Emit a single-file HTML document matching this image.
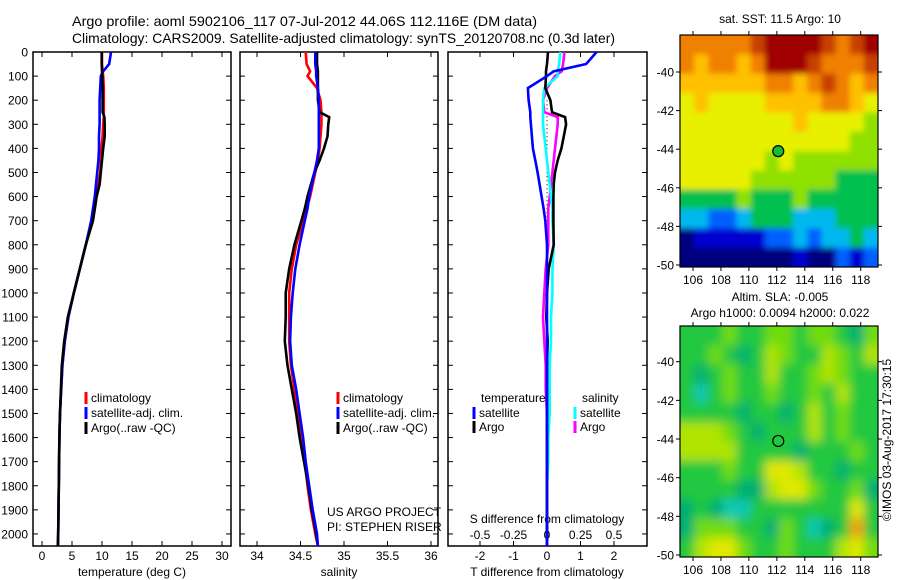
<!DOCTYPE html>
<html><head><meta charset="utf-8"><style>
body{margin:0;background:#fff;}
svg{display:block;font-family:"Liberation Sans",sans-serif;}
</style></head><body>
<svg id="c" width="900" height="580" xmlns="http://www.w3.org/2000/svg">
<defs>
<filter id="blurS" x="-5%" y="-5%" width="110%" height="110%"><feGaussianBlur stdDeviation="3"/></filter>
<filter id="blurL" x="-5%" y="-5%" width="110%" height="110%"><feGaussianBlur stdDeviation="5"/></filter>
<clipPath id="clipS"><rect x="680" y="35" width="198" height="232"/></clipPath>
<clipPath id="clipL"><rect x="680" y="326" width="198" height="231"/></clipPath>
</defs>
<text x="72" y="26" font-size="14" textLength="465" lengthAdjust="spacingAndGlyphs">Argo profile: aoml 5902106_117 07-Jul-2012 44.06S 112.116E (DM data)</text>
<text x="72" y="43" font-size="14" textLength="543" lengthAdjust="spacingAndGlyphs">Climatology: CARS2009. Satellite-adjusted climatology: synTS_20120708.nc (0.3d later)</text>
<text x="780" y="23" font-size="12" text-anchor="middle">sat. SST: 11.5 Argo: 10</text>
<text x="780" y="301" font-size="12" text-anchor="middle">Altim. SLA: -0.005</text>
<text x="780" y="317" font-size="12" text-anchor="middle">Argo h1000: 0.0094 h2000: 0.022</text>
<text transform="translate(891,440) rotate(-90)" font-size="12" text-anchor="middle">©IMOS 03-Aug-2017 17:30:15</text>
<g id="g"></g>
</svg>
<script>
// ---- data ----
const depthTicks=[0,100,200,300,400,500,600,700,800,900,1000,1100,1200,1300,1400,1500,1600,1700,1800,1900,2000];
const tempTicks=[0,5,10,15,20,25,30];
const salTicks=[34,34.5,35,35.5,36];
const tdiffTicks=[-2,-1,0,1,2];
const sdiffTickLabels=["-0.5","-0.25","0","0.25","0.5"];
const sdiffTicks=[-0.5,-0.25,0,0.25,0.5];
const depths=[0,50,80,100,150,200,250,270,300,350,400,450,500,550,600,650,700,800,900,1000,1100,1200,1300,1400,1500,1600,1700,1800,1900,2000,2050];
const tempClim=[10.0,10.0,10.1,10.2,10.3,10.3,10.3,10.3,10.2,10.1,9.9,9.8,9.7,9.4,9.1,8.8,8.4,7.3,6.3,5.3,4.4,3.8,3.4,3.2,3.0,2.9,2.85,2.8,2.75,2.7,2.65];
const tempSat=[11.5,11.2,10.2,9.8,9.7,9.6,9.6,9.6,9.6,9.5,9.5,9.4,9.2,9.0,8.8,8.5,8.2,7.3,6.3,5.3,4.4,3.8,3.4,3.2,3.0,2.9,2.85,2.8,2.75,2.7,2.65];
const tempArgo=[9.95,9.95,10.0,10.05,10.1,10.1,10.1,10.4,10.45,10.45,10.2,10.0,9.8,9.6,9.1,8.8,8.5,7.3,6.3,5.3,4.3,3.7,3.3,3.15,3.0,2.9,2.85,2.8,2.75,2.7,2.65];
const salClim=[34.56,34.57,34.61,34.58,34.69,34.73,34.74,34.74,34.74,34.73,34.72,34.7,34.67,34.64,34.61,34.57,34.53,34.45,34.40,34.37,34.37,34.37,34.39,34.43,34.47,34.51,34.55,34.58,34.62,34.67,34.70];
const salSat=[34.67,34.67,34.68,34.68,34.70,34.71,34.71,34.71,34.71,34.71,34.71,34.69,34.66,34.63,34.60,34.58,34.55,34.49,34.44,34.41,34.39,34.38,34.40,34.45,34.49,34.53,34.56,34.60,34.64,34.69,34.70];
const salArgo=[34.69,34.69,34.70,34.70,34.70,34.70,34.72,34.83,34.82,34.81,34.77,34.72,34.66,34.62,34.58,34.55,34.51,34.43,34.37,34.33,34.33,34.32,34.35,34.40,34.45,34.49,34.54,34.59,34.63,34.68,34.70];
const tdiffSat=[1.48,1.17,0.2,0,-0.57,-0.55,-0.5,-0.5,-0.48,-0.45,-0.42,-0.35,-0.28,-0.22,-0.16,-0.1,-0.05,0,0,0,0,0,0,0,0,0,0,0,0,0,0];
const tdiffArgo=[0.03,0.0,-0.03,-0.03,-0.05,0.1,0.15,0.54,0.57,0.5,0.43,0.32,0.24,0.2,0.19,0.19,0.19,0.2,0.05,0.0,-0.02,0.02,0.0,0.0,0.0,0.0,0.0,0.0,0.0,0.0,0.0];
const sdiffSat=[0.1,0.09,0.08,0.08,-0.02,-0.03,-0.03,-0.03,-0.03,-0.02,-0.01,0.0,0.01,0.02,0.03,0.04,0.04,0.05,0.04,0.04,0.03,0.03,0.02,0.02,0.02,0.01,0.01,0.0,0.0,0.0,0.0];
const sdiffArgo=[0.13,0.12,0.11,0.06,0.0,-0.03,-0.02,0.08,0.08,0.07,0.06,0.05,0.04,0.03,0.02,0.01,0.01,0.01,-0.01,-0.02,-0.03,-0.02,-0.01,-0.01,0.0,0.0,0.0,0.0,0.0,0.0,0.0];
const lonTicks=[106,108,110,112,114,116,118];
const latTicks=[-40,-42,-44,-46,-48,-50];
const sstGrid=[
[8,8,8,8,8,9,10,10,10,10,9,8,9,10],
[8,7,8,8,7,8,10,10,10,9,8,8,8,9],
[7,7,7,7,7,7,8,8,7,8,9,8,7,8],
[6,7,6,6,6,6,7,7,7,7,8,8,7,6],
[6,6,6,6,6,6,6,6,7,6,6,6,6,5],
[6,6,6,6,6,6,6,6,6,6,6,6,5,5],
[6,6,6,6,6,6,5,6,5,5,5,5,5,5],
[6,6,6,6,6,5,5,5,5,5,5,4,4,4],
[4,4,4,4,5,4,4,4,5,4,4,4,4,4],
[3,3,2,2,3,4,4,4,3,3,3,4,4,4],
[0,1,1,1,1,1,2,2,3,2,3,3,4,3],
[0,0,0,0,0,0,0,0,1,0,0,2,1,2]];
const slaGrid=[
[2,2,2,3,2,2,3,3,2,3,3,2,1,3],
[2,2,3,2,1,2,4,3,2,2,4,3,2,4],
[2,1,2,3,2,2,4,2,2,3,4,3,2,2],
[2,0,2,3,2,2,3,2,2,3,2,4,2,2],
[2,2,2,2,1,2,2,1,2,4,2,3,2,2],
[4,4,4,3,2,1,2,2,2,4,2,3,2,2],
[4,4,4,4,2,2,2,2,1,2,2,2,3,2],
[2,2,2,3,2,2,5,5,4,2,2,1,2,2],
[2,2,2,2,1,1,4,5,5,3,2,2,3,1],
[1,2,1,0,0,2,2,2,2,2,2,2,5,2],
[1,3,3,3,2,2,1,3,2,0,1,2,6,2],
[2,4,5,5,3,2,2,3,2,2,2,4,5,3]];
const argoLon=112.1, argoLat=-44.1;
// ---- helpers ----
const NS="http://www.w3.org/2000/svg";
const G=document.getElementById('g');
function el(t,a,p){const e=document.createElementNS(NS,t);for(const k in a)e.setAttribute(k,a[k]);(p||G).appendChild(e);return e;}
function txt(x,y,s,anchor,size){const e=el('text',{x:x,y:y,'font-size':size||12,'text-anchor':anchor||'middle'});e.textContent=s;return e;}
const y0=52,y1=546;
const yD=d=>y0+d*(y1-y0)/2050;
const xT=v=>42+6*v;
const xS=v=>257+87*(v-34);
const xTd=v=>547+33.5*v;
const xSd=v=>547+134*v;
const panels=[[33,231],[240,438],[448,647]];
panels.forEach((p,i)=>{
  const r=el('rect',{x:p[0],y:y0,width:p[1]-p[0],height:y1-y0,fill:'#fff',stroke:'#000','stroke-width':1.5});
  
  
  depthTicks.forEach(d=>{
    el('line',{x1:p[0],x2:p[0]+5,y1:yD(d),y2:yD(d),stroke:'#000'});
    el('line',{x1:p[1]-5,x2:p[1],y1:yD(d),y2:yD(d),stroke:'#000'});
  });
});
depthTicks.forEach(d=>{const t=txt(28,yD(d)+4.5,String(d),'end',12);
  
  });
function xticks(ticks,f,labels,ly){ticks.forEach((v,i)=>{const x=f(v);
  el('line',{x1:x,x2:x,y1:y0,y2:y0+5,stroke:'#000'});el('line',{x1:x,x2:x,y1:y1-5,y2:y1,stroke:'#000'});
  const t=txt(x,ly,labels?labels[i]:String(v),'middle',12);
  
  });}
xticks(tempTicks,xT,null,560);
xticks(salTicks,xS,null,560);
xticks(tdiffTicks,xTd,null,560);
sdiffTicks.forEach((v,i)=>{const t=txt(xSd(v),539,sdiffTickLabels[i],'middle',12);
  
  });
let t;
t=txt(132,576,'temperature (deg C)');
t=txt(339,576,'salinity');
t=txt(547,576,'T difference from climatology');
t=txt(547,523,'S difference from climatology');
t=txt(327,516,'US ARGO PROJECT','start');
t=txt(327,531,'PI: STEPHEN RISER','start');
el('line',{x1:547,x2:547,y1:yD(200),y2:yD(1000),stroke:'#000','stroke-dasharray':'1,3'});
function series(vals,f,color,name){
  const pts=vals.map((v,i)=>f(v).toFixed(1)+','+yD(depths[i]).toFixed(1)).join(' ');
  const l=el('polyline',{points:pts,fill:'none',stroke:color,'stroke-width':2.6,'stroke-linejoin':'miter'});
  
  
}
series(tempClim,xT,'#f00','temp-climatology-line');
series(tempSat,xT,'#00f','temp-satellite-line');
series(tempArgo,xT,'#000','temp-argo-line');
series(salClim,xS,'#f00','sal-climatology-line');
series(salArgo,xS,'#000','sal-argo-line');
series(salSat,xS,'#00f','sal-satellite-line');
series(sdiffArgo,xSd,'#f0f','sdiff-argo-line');
series(sdiffSat,xSd,'#0ff','sdiff-satellite-line');
series(tdiffArgo,xTd,'#000','tdiff-argo-line');
series(tdiffSat,xTd,'#00f','tdiff-satellite-line');
function leg(x,y,color,label,name){
  el('rect',{x:x-1.5,y:y-10,width:3,height:12,fill:color});
  const t=txt(x+5,y,label,'start',12);
  
  
}
[[86,'climatology','#f00'],[86,'satellite-adj. clim.','#00f'],[86,'Argo(..raw -QC)','#000']].forEach((a,i)=>leg(a[0],402+i*15,a[2],a[1],'legend-entry-temp-'+i));
[[338,'climatology','#f00'],[338,'satellite-adj. clim.','#00f'],[338,'Argo(..raw -QC)','#000']].forEach((a,i)=>leg(a[0],402+i*15,a[2],a[1],'legend-entry-sal-'+i));
t=txt(481,402,'temperature','start');
t=txt(582,402,'salinity','start');
leg(474,417,'#00f','satellite','legend-tdiff-satellite');
leg(474,431,'#000','Argo','legend-tdiff-argo');
leg(575,417,'#0ff','satellite','legend-sdiff-satellite');
leg(575,431,'#f0f','Argo','legend-sdiff-argo');
// ---- maps ----
const sstColors=['#00007f','#0000d0','#0060ff','#00b8f0','#00c050','#90e000','#e8f000','#ffc000','#f08000','#c84000','#a00000'];
const slaColors=['#10c8b0','#00b070','#20c840','#70dc10','#b0e400','#e0e800','#f0a000'];
function map(top,bottom,grid,colors,name,lat40y,lat50y,fillDot,clip,filt){
  const L=680,R=878;const lx=v=>693+(v-106)*(860.7-693)/12;
  const ly=v=>lat40y+(v+40)*(lat50y-lat40y)/-10;
  const rows=grid.length,cols=grid[0].length,cw=(R-L)/cols,ch=(bottom-top)/rows;
  const cg=el('g',{'clip-path':'url(#'+clip+')'});
  const bg=el('g',{filter:'url(#'+filt+')'},cg);
  grid.forEach((row,r)=>row.forEach((v,c)=>{
    const x=L+c*cw-(c===0?12:0), y=top+r*ch-(r===0?12:0);
    const w=cw+0.6+(c===0?12:0)+(c===cols-1?12:0), h=ch+0.6+(r===0?12:0)+(r===rows-1?12:0);
    const e=el('rect',{x:x,y:y,width:w,height:h,fill:colors[v]},bg);
    
    
  }));
  const f=el('rect',{x:L,y:top,width:R-L,height:bottom-top,fill:'none',stroke:'#000','stroke-width':1.2});
  
  
  lonTicks.forEach(v=>{const x=lx(v);el('line',{x1:x,x2:x,y1:top-4,y2:top,stroke:'#000'});el('line',{x1:x,x2:x,y1:bottom,y2:bottom+4,stroke:'#000'});
    const t=txt(x,bottom+17,String(v),'middle',12);});
  latTicks.forEach(v=>{const y=ly(v);el('line',{x1:L-4,x2:L,y1:y,y2:y,stroke:'#000'});el('line',{x1:R,x2:R+4,y1:y,y2:y,stroke:'#000'});
    const t=txt(L-6,y+4.5,String(v),'end',12);});
  const c=el('circle',{cx:lx(argoLon),cy:ly(argoLat),r:5.5,fill:fillDot,stroke:'#000','stroke-width':1.2});
  
  
}
map(35,267,sstGrid,sstColors,'sst-map',72,265,'#10c030','clipS','blurS');
map(326,557,slaGrid,slaColors,'sla-map',361.7,555,'none','clipL','blurL');
</script>
</body></html>
